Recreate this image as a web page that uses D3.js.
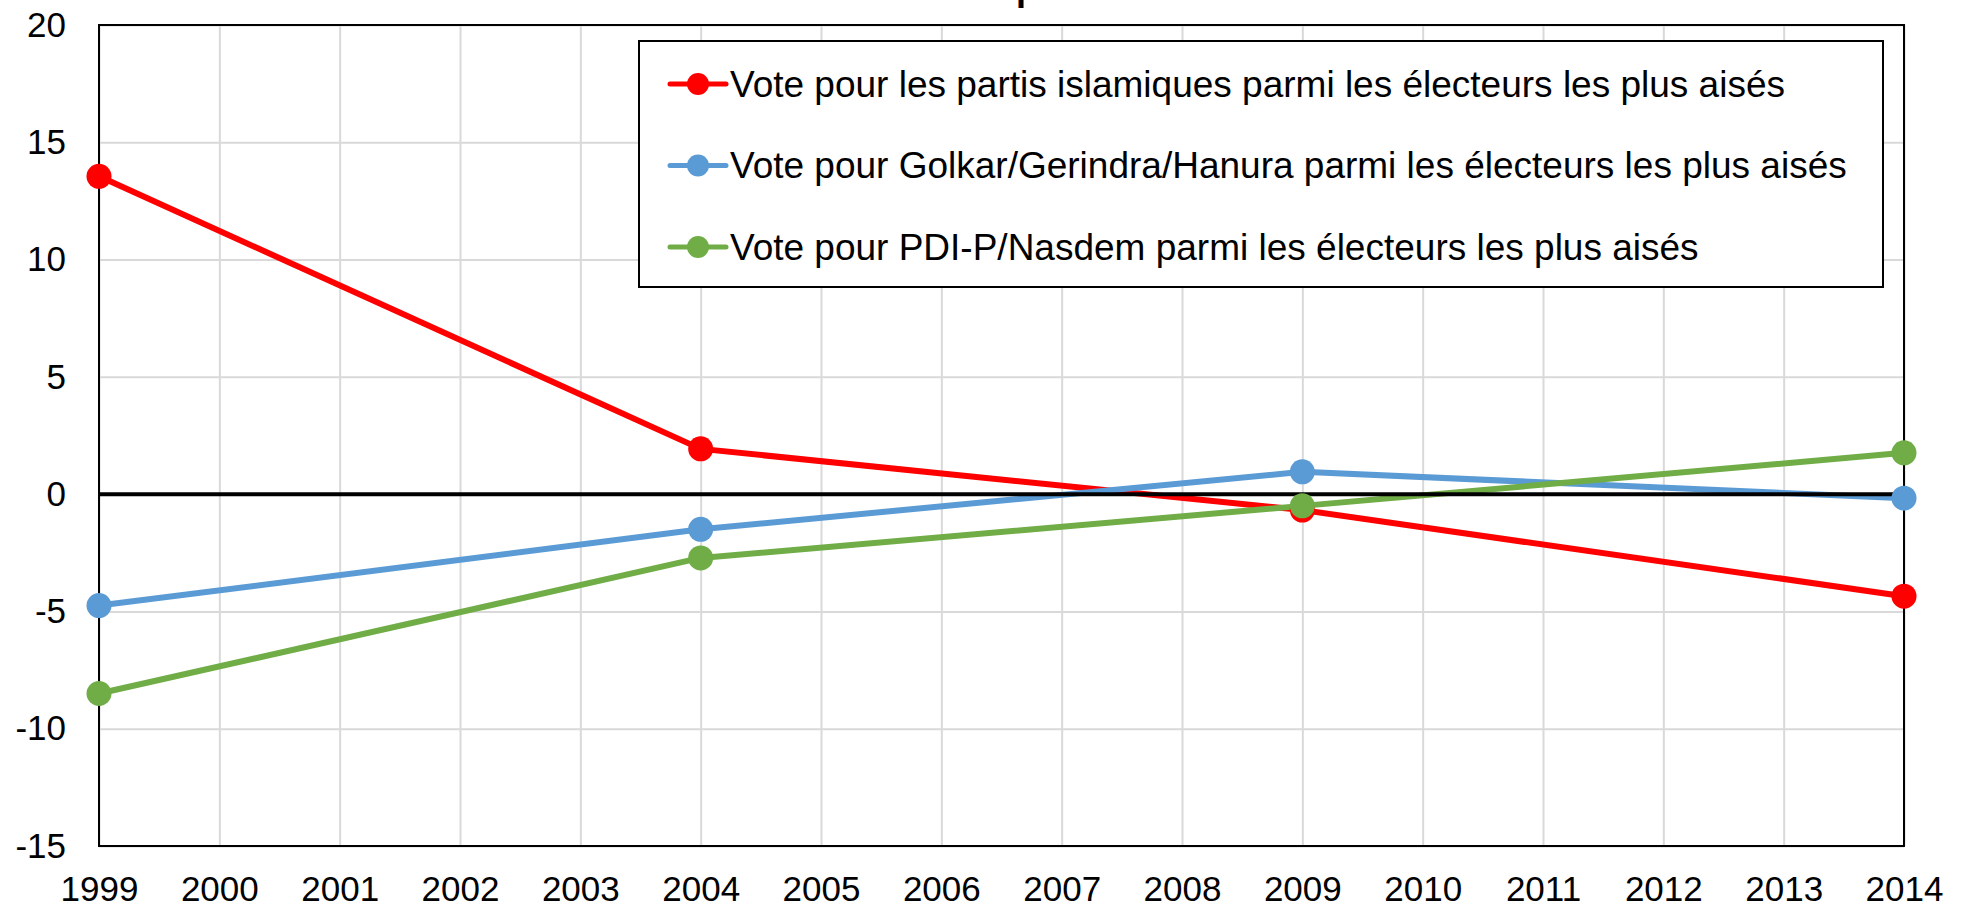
<!DOCTYPE html>
<html>
<head>
<meta charset="utf-8">
<script src="https://cdn.jsdelivr.net/npm/d3@7"></script>
<style>
  body { margin: 0; background: #fff; }
  svg text { font-family: "Liberation Sans", Arial, sans-serif; fill: #000; }
</style>
</head>
<body>
<div id="chart"></div>
<script>
// data
var years = [1999, 2004, 2009, 2014];
var islamiques = [13.55, 1.93, -0.68, -4.35];
var golkar = [-4.75, -1.5, 0.95, -0.17];
var pdip = [-8.5, -2.72, -0.5, 1.76];
var yTicks = [-15, -10, -5, 0, 5, 10, 15, 20];
var xTicks = d3.range(1999, 2015);
var seriesNames = [
  "Vote pour les partis islamiques parmi les électeurs les plus aisés",
  "Vote pour Golkar/Gerindra/Hanura parmi les électeurs les plus aisés",
  "Vote pour PDI-P/Nasdem parmi les électeurs les plus aisés"
];
var seriesColors = ["#ff0000", "#5b9bd5", "#70ad47"];

var W = 1968, H = 909;
var margin = { top: 25, left: 99, right: 64, bottom: 63 };

var svg = d3.select("#chart").append("svg")
    .attr("width", W)
    .attr("height", H);

var x = d3.scaleLinear().domain([1999, 2014]).range([margin.left, W - margin.right]);
var y = d3.scaleLinear().domain([-15, 20]).range([H - margin.bottom, margin.top]);

// grid lines
svg.append("g")
    .attr("transform", "translate(0," + (H - margin.bottom) + ")")
    .call(d3.axisBottom(x).tickValues(xTicks).tickSize(-(H - margin.bottom - margin.top)).tickFormat(""))
    .call(function(g) { g.select(".domain").remove(); })
    .selectAll("line").attr("stroke", "#d9d9d9").attr("stroke-width", 2);

svg.append("g")
    .attr("transform", "translate(" + margin.left + ",0)")
    .call(d3.axisLeft(y).tickValues(yTicks).tickSize(-(W - margin.right - margin.left)).tickFormat(""))
    .call(function(g) { g.select(".domain").remove(); })
    .selectAll("line").attr("stroke", "#d9d9d9").attr("stroke-width", 2);

// plot frame
svg.append("rect")
    .attr("x", x(1999)).attr("y", y(20))
    .attr("width", x(2014) - x(1999)).attr("height", y(-15) - y(20))
    .attr("fill", "none").attr("stroke", "#000").attr("stroke-width", 2);

// tick labels (plain hyphen for negatives, like the original)
var yAxis = svg.append("g")
    .attr("transform", "translate(" + (margin.left - 33) + ",0)")
    .call(d3.axisLeft(y).tickValues(yTicks).tickSize(0).tickPadding(0).tickFormat(String));
yAxis.select(".domain").remove();
yAxis.selectAll("text").style("font-size", "35px");

var xAxis = svg.append("g")
    .attr("transform", "translate(0," + (H - margin.bottom + 30) + ")")
    .call(d3.axisBottom(x).tickValues(xTicks).tickSize(0).tickPadding(0).tickFormat(String));
xAxis.select(".domain").remove();
xAxis.selectAll("text").style("font-size", "35px");

// title (mostly outside the visible area)
svg.append("text")
    .attr("x", 1016).attr("y", 0)
    .style("font-size", "36px").style("font-weight", "bold")
    .text("p");

var allSeries = [islamiques, golkar, pdip];

var line = d3.line()
    .x(function(d, i) { return x(years[i]); })
    .y(function(d) { return y(d); });

allSeries.forEach(function(vals, k) {
  svg.append("path")
      .datum(vals)
      .attr("fill", "none")
      .attr("stroke", seriesColors[k])
      .attr("stroke-width", 6)
      .attr("stroke-linejoin", "round")
      .attr("d", line);
});

// zero line
svg.append("line")
    .attr("x1", x(1999)).attr("x2", x(2014))
    .attr("y1", y(0)).attr("y2", y(0))
    .attr("stroke", "#000").attr("stroke-width", 4);

allSeries.forEach(function(vals, k) {
  svg.append("g").selectAll("circle")
      .data(vals)
      .enter().append("circle")
      .attr("cx", function(d, i) { return x(years[i]); })
      .attr("cy", function(d) { return y(d); })
      .attr("r", 12.5)
      .attr("fill", seriesColors[k]);
});

// legend
var legend = svg.append("g");
legend.append("rect")
    .attr("x", 639).attr("y", 41)
    .attr("width", 1244).attr("height", 246)
    .attr("fill", "#fff").attr("stroke", "#000").attr("stroke-width", 2);

var rows = legend.selectAll(".row")
    .data(seriesNames)
    .enter().append("g")
    .attr("class", "row")
    .attr("transform", function(d, i) { return "translate(0," + (84 + i * 81.5) + ")"; });

rows.append("line")
    .attr("x1", 670).attr("x2", 726)
    .attr("stroke", function(d, i) { return seriesColors[i]; })
    .attr("stroke-width", 5)
    .attr("stroke-linecap", "round");
rows.append("circle")
    .attr("cx", 698).attr("r", 11)
    .attr("fill", function(d, i) { return seriesColors[i]; });
rows.append("text")
    .attr("x", 730).attr("dy", "0.35em")
    .style("font-size", "37px")
    .text(function(d) { return d; });
</script>
</body>
</html>
